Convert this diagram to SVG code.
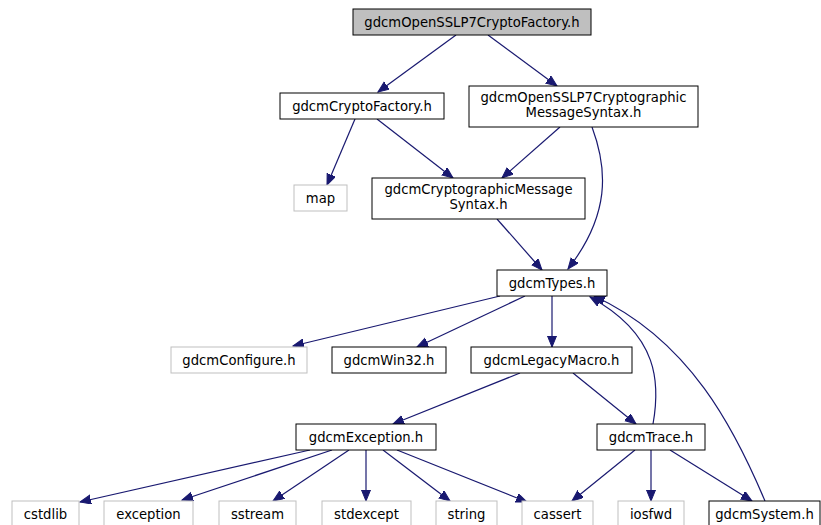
<svg xmlns="http://www.w3.org/2000/svg" width="821" height="525" viewBox="0 0 821 525">
<style>
.n rect{fill:#fff;stroke:#000;stroke-width:1}
.g rect{fill:#fff;stroke:#bfbfbf;stroke-width:1}
.r rect{fill:#bfbfbf;stroke:#000;stroke-width:1}
text{font-family:"DejaVu Sans",sans-serif;font-size:13.2px;fill:#000;text-anchor:middle}
.e path{fill:none;stroke:#191970;stroke-width:1.2;marker-end:url(#a)}
</style>
<defs>
<marker id="a" markerUnits="userSpaceOnUse" markerWidth="12" markerHeight="10" refX="11" refY="4.5" orient="auto">
<path d="M0,0 L11,4.5 L0,9 z" fill="#191970" stroke="#191970"/>
</marker>
</defs>
<rect width="821" height="525" fill="#fff"/>
<g class="e">
<path d="M456,35 L378,92"/>
<path d="M488,35 L557,86"/>
<path d="M355,119 L327,185"/>
<path d="M377,119 L453,178"/>
<path d="M560,127 L502,178"/>
<path d="M592,127 C608,170 610,215 568,269"/>
<path d="M497,219 L542,270"/>
<path d="M500,296 L293,346"/>
<path d="M525,296 L417,347"/>
<path d="M552,296 L552,347"/>
<path d="M520,373 L393,424"/>
<path d="M573,373 L636,424"/>
<path d="M653,424 C660,385 660,335 590,297"/>
<path d="M765,501 C735,430 690,340 594,296"/>
<path d="M310,450 L80,502"/>
<path d="M332,450 L182,500"/>
<path d="M349,450 L273,501"/>
<path d="M366,450 L366,501"/>
<path d="M383,450 L450,501"/>
<path d="M397,450 L527,502"/>
<path d="M635,450 L572,501"/>
<path d="M651,450 L651,501"/>
<path d="M670,450 L752,501"/>
</g>
<g id="n0" class="r"><rect x="353" y="9" width="238" height="26"/><text x="472" y="26.5">gdcmOpenSSLP7CryptoFactory.h</text></g>
<g id="n1" class="n"><rect x="280" y="93" width="164" height="26"/><text x="362" y="110.5">gdcmCryptoFactory.h</text></g>
<g id="n2" class="n"><rect x="469" y="86" width="229" height="41"/><text x="583.5" y="102">gdcmOpenSSLP7Cryptographic</text><text x="583.5" y="117">MessageSyntax.h</text></g>
<g id="n3" class="g"><rect x="294" y="185" width="53" height="26"/><text x="320.5" y="202.5">map</text></g>
<g id="n4" class="n"><rect x="372" y="178" width="213" height="41"/><text x="478.5" y="194">gdcmCryptographicMessage</text><text x="478.5" y="209">Syntax.h</text></g>
<g id="n5" class="n"><rect x="497" y="270" width="110" height="26"/><text x="552" y="287.5">gdcmTypes.h</text></g>
<g id="n6" class="g"><rect x="171" y="347" width="136" height="26"/><text x="239" y="364.5">gdcmConfigure.h</text></g>
<g id="n7" class="n"><rect x="332" y="347" width="114" height="26"/><text x="389" y="364.5">gdcmWin32.h</text></g>
<g id="n8" class="n"><rect x="471" y="347" width="161" height="26"/><text x="551.5" y="364.5">gdcmLegacyMacro.h</text></g>
<g id="n9" class="n"><rect x="296" y="424" width="140" height="26"/><text x="366" y="441.5">gdcmException.h</text></g>
<g id="n10" class="n"><rect x="597" y="424" width="108" height="26"/><text x="651" y="441.5">gdcmTrace.h</text></g>
<g id="n11" class="g"><rect x="12" y="501" width="67" height="26"/><text x="45.5" y="518.5">cstdlib</text></g>
<g id="n12" class="g"><rect x="104" y="501" width="89" height="26"/><text x="148.5" y="518.5">exception</text></g>
<g id="n13" class="g"><rect x="219" y="501" width="77" height="26"/><text x="257.5" y="518.5">sstream</text></g>
<g id="n14" class="g"><rect x="322" y="501" width="89" height="26"/><text x="366.5" y="518.5">stdexcept</text></g>
<g id="n15" class="g"><rect x="436" y="501" width="61" height="26"/><text x="466.5" y="518.5">string</text></g>
<g id="n16" class="g"><rect x="522" y="501" width="71" height="26"/><text x="557.5" y="518.5">cassert</text></g>
<g id="n17" class="g"><rect x="618" y="501" width="66" height="26"/><text x="651" y="518.5">iosfwd</text></g>
<g id="n18" class="n"><rect x="709" y="501" width="111" height="26"/><text x="764.5" y="518.5">gdcmSystem.h</text></g>
</svg>
